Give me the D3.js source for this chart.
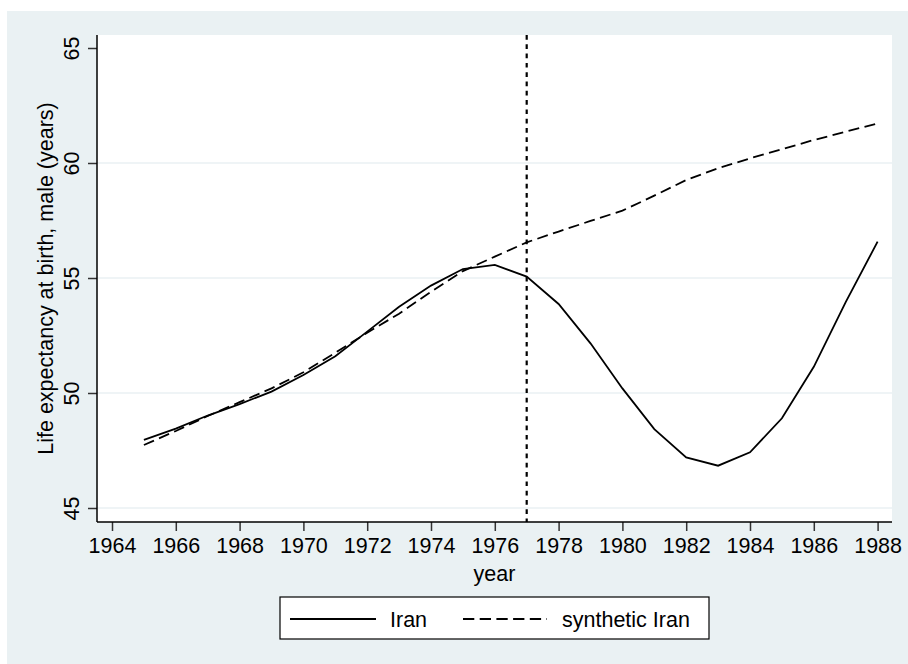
<!DOCTYPE html>
<html>
<head>
<meta charset="utf-8">
<script src="https://cdn.jsdelivr.net/npm/d3@7"></script>
<style>
  body { margin: 0; background: #fff; }
  text { font-family: "Liberation Sans", Arial, sans-serif; fill: #000; }
</style>
</head>
<body>
<div class="chart"></div>
<script>
var years = [1965, 1966, 1967, 1968, 1969, 1970, 1971, 1972, 1973, 1974, 1975, 1976,
  1977, 1978, 1979, 1980, 1981, 1982, 1983, 1984, 1985, 1986, 1987, 1988];
var iran = [47.96, 48.45, 49.02, 49.52, 50.06, 50.78, 51.6, 52.67, 53.75, 54.67, 55.39, 55.57,
  55.06, 53.87, 52.16, 50.2, 48.43, 47.2, 46.84, 47.42, 48.9, 51.14, 53.95, 56.58];
var synthIran = [47.74, 48.35, 49.0, 49.6, 50.2, 50.9, 51.75, 52.62, 53.45, 54.4, 55.3, 55.93,
  56.55, 57.02, 57.48, 57.93, 58.58, 59.26, 59.77, 60.2, 60.6, 61.0, 61.36, 61.72];
var xTicks = [1964, 1966, 1968, 1970, 1972, 1974, 1976, 1978, 1980, 1982, 1984, 1986, 1988];
var yTicks = [45, 50, 55, 60, 65];
var gridValues = [45, 50, 55, 60];
var treatYear = 1977;
var legendLabels = ['Iran', 'synthetic Iran'];

var width = 908;
var height = 664;
var bg = '#eaf1f3';
var fs = 21.5;

var svg = d3.select('.chart')
  .append('svg')
  .attr('width', width)
  .attr('height', height)

// graph region
svg.append('rect')
  .attr('x', 7).attr('y', 11)
  .attr('width', width - 7).attr('height', height - 11)
  .attr('fill', bg)

var plot = { left: 97, top: 35, right: 892, bottom: 522 };

svg.append('rect')
  .attr('x', plot.left).attr('y', plot.top)
  .attr('width', plot.right - plot.left).attr('height', plot.bottom - plot.top)
  .attr('fill', '#fff')

var x = d3.scaleLinear().domain([1964, 1988]).range([112, 877.6]);
var y = d3.scaleLinear().domain([45, 65]).range([508, 48]);

// gridlines
svg.selectAll('.grid')
  .data(gridValues)
  .enter().append('line')
  .attr('class', 'grid')
  .attr('x1', plot.left).attr('x2', plot.right)
  .attr('y1', function(d){ return y(d) })
  .attr('y2', function(d){ return y(d) })
  .attr('stroke', bg)
  .attr('stroke-width', 1.5)

// x axis
var xAxis = svg.append('g')
  .attr('transform', 'translate(0,' + plot.bottom + ')')
  .call(d3.axisBottom(x).tickValues(xTicks).tickFormat(d3.format('d')).tickSize(9).tickPadding(7))
xAxis.select('.domain').remove()
xAxis.append('line')
  .attr('x1', plot.left).attr('x2', plot.right)
  .attr('stroke', '#000').attr('stroke-width', 1.5)
xAxis.selectAll('.tick line').attr('stroke', '#333').attr('stroke-width', 1.5)
xAxis.selectAll('.tick text')
  .attr('font-size', fs)
  .attr('font-family', '"Liberation Sans", Arial, sans-serif')
  .attr('fill', '#000')

// y axis
var yAxis = svg.append('g')
  .attr('transform', 'translate(' + plot.left + ',0)')
  .call(d3.axisLeft(y).tickValues(yTicks).tickSize(9).tickFormat(d3.format('d')))
yAxis.select('.domain').remove()
yAxis.append('line')
  .attr('y1', plot.top).attr('y2', plot.bottom)
  .attr('stroke', '#000').attr('stroke-width', 1.5)
yAxis.selectAll('.tick line').attr('stroke', '#333').attr('stroke-width', 1.5)
yAxis.selectAll('.tick text')
  .attr('x', null).attr('dy', null)
  .attr('text-anchor', 'middle')
  .attr('transform', 'translate(-18,0) rotate(-90)')
  .attr('font-size', fs)
  .attr('font-family', '"Liberation Sans", Arial, sans-serif')
  .attr('fill', '#000')

// axis titles
svg.append('text')
  .attr('x', (plot.left + plot.right) / 2)
  .attr('y', 581)
  .attr('text-anchor', 'middle')
  .attr('font-size', fs)
  .text('year')

svg.append('text')
  .attr('transform', 'translate(52.5,' + ((plot.top + plot.bottom) / 2) + ') rotate(-90)')
  .attr('text-anchor', 'middle')
  .attr('font-size', fs)
  .text('Life expectancy at birth, male (years)')

// treatment line
svg.append('line')
  .attr('x1', x(treatYear)).attr('x2', x(treatYear))
  .attr('y1', plot.top).attr('y2', plot.bottom)
  .attr('stroke', '#000')
  .attr('stroke-width', 2.2)
  .attr('stroke-dasharray', '4.7,4.6')

var line = d3.line()
  .x(function(d){ return x(d[0]) })
  .y(function(d){ return y(d[1]) })

svg.append('path')
  .datum(d3.zip(years, synthIran))
  .attr('d', line)
  .attr('fill', 'none')
  .attr('stroke', '#000')
  .attr('stroke-width', 1.8)
  .attr('stroke-dasharray', '11,5.5')

svg.append('path')
  .datum(d3.zip(years, iran))
  .attr('d', line)
  .attr('fill', 'none')
  .attr('stroke', '#000')
  .attr('stroke-width', 1.8)

// legend
var legend = svg.append('g')
legend.append('rect')
  .attr('x', 280).attr('y', 597)
  .attr('width', 429).attr('height', 42)
  .attr('fill', '#fff')
  .attr('stroke', '#000')
  .attr('stroke-width', 1.2)

var legendItems = legend.selectAll('.item')
  .data(legendLabels)
  .enter().append('g')
  .attr('class', 'item')
  .attr('transform', function(d, i){ return 'translate(' + (i === 0 ? 290 : 463) + ',619)' })

legendItems.append('line')
  .attr('x1', 0).attr('x2', function(d, i){ return i === 0 ? 86 : 84 })
  .attr('stroke', '#000')
  .attr('stroke-width', 1.8)
  .attr('stroke-dasharray', function(d, i){ return i === 0 ? null : '11.3,5.4' })

legendItems.append('text')
  .attr('x', function(d, i){ return i === 0 ? 100 : 99 })
  .attr('y', 7.5)
  .attr('font-size', fs)
  .text(function(d){ return d })
</script>
</body>
</html>
